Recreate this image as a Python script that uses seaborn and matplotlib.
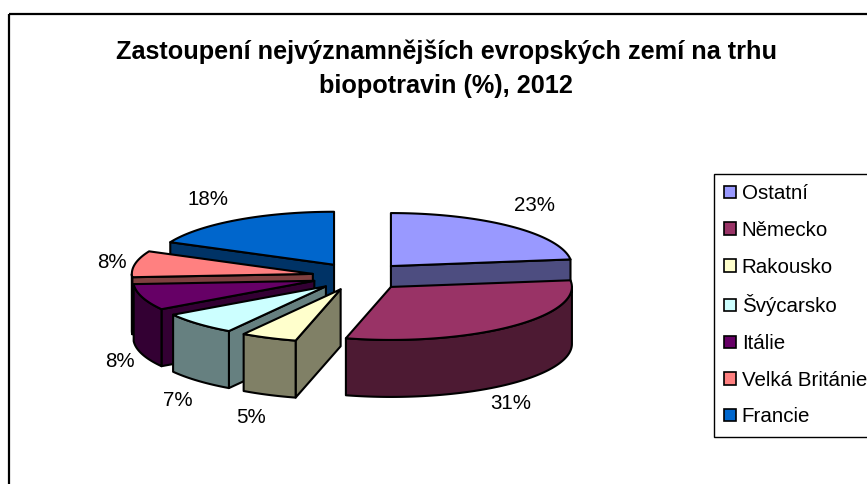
# 3D exploded pie - share of European countries on the organic food market
import numpy as np
import matplotlib
matplotlib.use("Agg")
import matplotlib.pyplot as plt
from matplotlib.patches import Patch, Polygon, Rectangle
import seaborn as sns

countries = ['Ostatní', 'Německo', 'Rakousko', 'Švýcarsko', 'Itálie', 'Velká Británie', 'Francie']
shares = [23, 31, 5, 7, 8, 8, 18]
top_colors = ['#9999FF', '#993366', '#FFFFCC', '#CCFFFF', '#660066', '#FF8080', '#0066CC']
title = 'Zastoupení nejvýznamnějších evropských zemí na trhu\nbiopotravin (%), 2012'

# pie geometry in pixels of the picture
cx, cy = 359.5, 276.5
rx, ry = 181, 53
depth = 57
explode = 47.5
# label shift from the rim of each slice
label_shift = [(24, -21), (0, 20), (-18, 23), (-20, 20), (-22, 7), (-23, -1), (-29, -21)]

sns.set_theme(style="white")
plt.rcParams['font.family'] = ['Liberation Sans', 'DejaVu Sans']
palette = sns.color_palette(top_colors)

fig, ax = plt.subplots(figsize=(8.67, 4.84), dpi=100)
ax.set_position([0, 0, 1, 1])
ax.set_xlim(0, 867)
ax.set_ylim(484, 0)
ax.axis('off')

# chart frame
ax.add_patch(Rectangle((8.5, 13.5), 900, 500, fill=False, edgecolor='black', linewidth=1.6))

def ring(ox, oy, a, b, drop=0):
    t = np.radians(np.linspace(a, b, max(int(b - a), 2) + 1))
    return np.column_stack([ox + rx * np.sin(t), oy - ry * np.cos(t) + drop])

edges = np.cumsum([0] + shares) * 3.6
slices = []
for i, share in enumerate(shares):
    a, b = edges[i], edges[i + 1]
    mid = np.radians((a + b) / 2)
    ox = cx + explode * np.sin(mid)
    oy = cy - explode * np.cos(mid) * ry / rx
    slices.append((np.cos(mid), i, a, b, ox, oy, mid))

# back slices first
for _, i, a, b, ox, oy, mid in sorted(slices, key=lambda s: -s[0]):
    top = palette[i]
    side = tuple(c * 0.5 for c in top)
    kw = dict(edgecolor='black', linewidth=1.5, joinstyle='round')
    apex = np.array([ox, oy])
    # cut faces
    if np.sin(np.radians(a)) < -1e-6:
        rim = ring(ox, oy, a, a + 0.01)[0]
        ax.add_patch(Polygon([apex, rim, rim + (0, depth), apex + (0, depth)], facecolor=side, **kw))
    if np.sin(np.radians(b)) > 1e-6:
        rim = ring(ox, oy, b, b + 0.01)[0]
        ax.add_patch(Polygon([apex, rim, rim + (0, depth), apex + (0, depth)], facecolor=side, **kw))
    # outer wall, only the front half of the rim
    lo, hi = max(a, 90), min(b, 270)
    if lo < hi:
        arc = ring(ox, oy, lo, hi)
        ax.add_patch(Polygon(np.vstack([arc, ring(ox, oy, lo, hi, depth)[::-1]]), facecolor=side, **kw))
    # top face
    ax.add_patch(Polygon(np.vstack([apex, ring(ox, oy, a, b)]), facecolor=top, **kw))
    # percent label
    drop = depth if np.cos(mid) < 0 else 0
    sx, sy = label_shift[i]
    ax.text(ox + rx * np.sin(mid) + sx, oy - ry * np.cos(mid) + drop + sy, f'{shares[i]}%',
            ha='center', va='center', fontsize=14.8, color='black')

ax.text(446, 69, title, ha='center', va='center', fontsize=18.2, fontweight='bold',
        color='black', linespacing=1.5)

handles = [Patch(facecolor=palette[i], edgecolor='black', linewidth=1.2) for i in range(len(countries))]
leg = ax.legend(handles, countries, loc='upper left', bbox_to_anchor=(714, 174), bbox_transform=ax.transData,
                fontsize=14.8, frameon=True, fancybox=False, framealpha=1, edgecolor='black',
                labelcolor='black', handlelength=0.55, handleheight=0.55, handletextpad=0.3,
                labelspacing=0.86, borderpad=0.5, borderaxespad=0)
leg.get_frame().set_linewidth(1.0)

plt.savefig('out.png', dpi=100)
